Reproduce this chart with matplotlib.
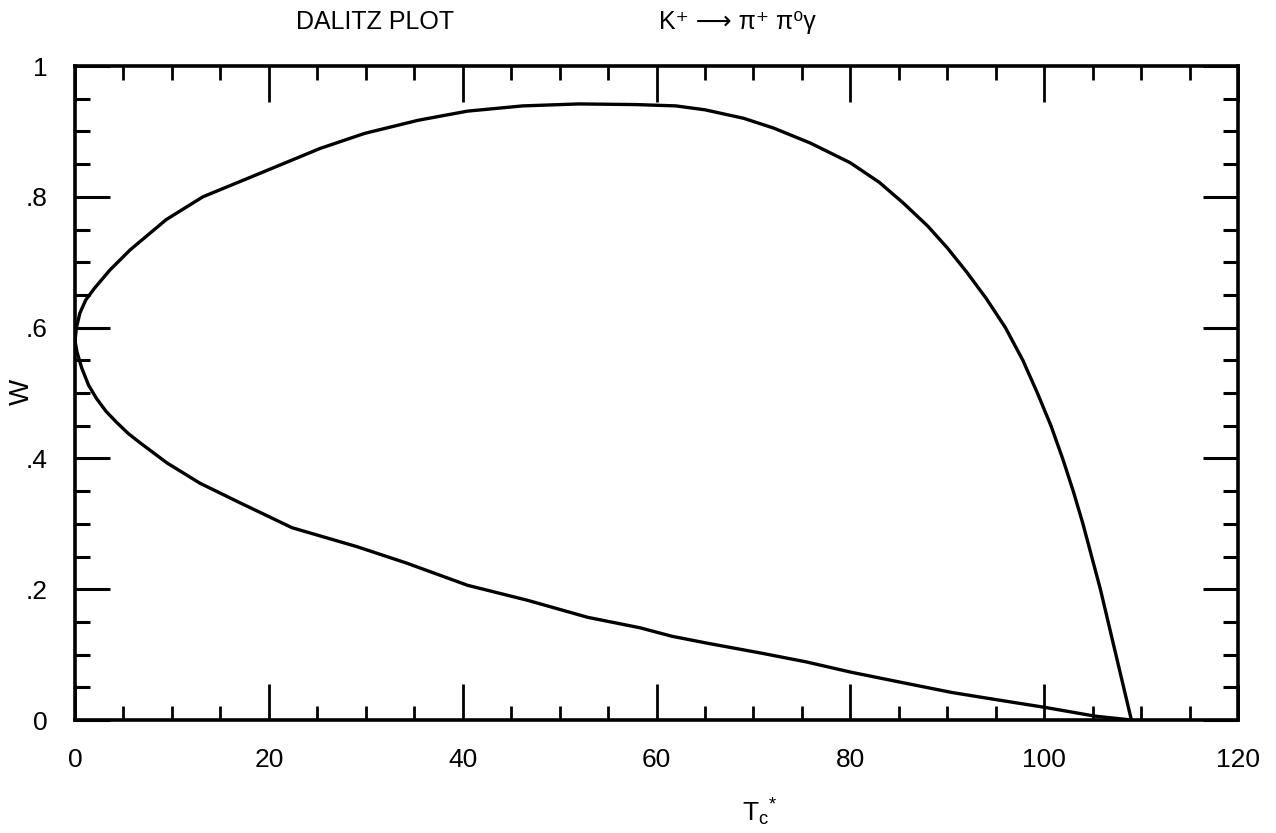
import matplotlib
matplotlib.use("Agg")
import matplotlib.pyplot as plt
from matplotlib.ticker import MultipleLocator

plt.rcParams['font.family'] = ['Liberation Sans', 'DejaVu Sans']
plt.rcParams['mathtext.fontset'] = 'custom'
plt.rcParams['mathtext.rm'] = 'Liberation Sans'
plt.rcParams['mathtext.it'] = 'Liberation Sans'
plt.rcParams['mathtext.sf'] = 'Liberation Sans'

# boundary of the Dalitz region
upper_T = [0.0, 0.15, 0.5, 1.1, 2.0, 3.6, 5.7, 9.4, 13.2, 19.1, 25.3, 29.9, 35.4, 40.5,
           46.2, 52.0, 57.9, 62.0, 65.0, 69.0, 72.1, 75.9, 80.0, 83.0, 85.5, 88.0, 90.0,
           92.0, 94.0, 96.0, 97.8, 99.3, 100.7, 101.9, 103.0, 104.0, 104.9, 105.8,
           106.6, 107.4, 108.2, 109.0]
upper_W = [0.58, 0.60, 0.622, 0.642, 0.660, 0.688, 0.719, 0.765, 0.800, 0.836, 0.874,
           0.897, 0.917, 0.931, 0.939, 0.942, 0.941, 0.939, 0.933, 0.920, 0.905, 0.882,
           0.852, 0.822, 0.790, 0.755, 0.722, 0.685, 0.645, 0.600, 0.550, 0.500, 0.450,
           0.400, 0.350, 0.300, 0.250, 0.200, 0.150, 0.100, 0.050, 0.0]

lower_T = [0.0, 0.2, 0.7, 1.4, 2.2, 3.2, 4.3, 5.5, 6.7, 9.5, 12.9, 16.9, 22.4, 29.1,
           34.2, 40.5, 46.7, 52.9, 58.3, 61.6, 65.4, 70.9, 75.4, 80.1, 85.1, 90.5,
           95.1, 100.2, 105.2, 109.0]
lower_W = [0.58, 0.563, 0.538, 0.512, 0.492, 0.472, 0.455, 0.438, 0.424, 0.393, 0.362,
           0.333, 0.294, 0.265, 0.240, 0.206, 0.183, 0.157, 0.141, 0.128, 0.117, 0.102,
           0.089, 0.073, 0.058, 0.042, 0.031, 0.019, 0.006, 0.0]

x_ticks = [0, 20, 40, 60, 80, 100, 120]
y_ticks = [0, 0.2, 0.4, 0.6, 0.8, 1.0]
y_tick_labels = ['0', '.2', '.4', '.6', '.8', '1']

fig = plt.figure(figsize=(12.76, 8.33), dpi=100)
ax = fig.add_axes([75 / 1276, 1 - 720 / 833, (1238 - 75) / 1276, (720 - 66) / 833])

ax.plot(upper_T, upper_W, color='black', lw=2.4, solid_capstyle='round', solid_joinstyle='round')
ax.plot(lower_T, lower_W, color='black', lw=2.4, solid_capstyle='round', solid_joinstyle='round')

ax.set_xlim(0, 120)
ax.set_ylim(0, 1)
ax.set_xticks(x_ticks)
ax.set_xticklabels([str(t) for t in x_ticks])
ax.set_yticks(y_ticks)
ax.set_yticklabels(y_tick_labels)
ax.xaxis.set_minor_locator(MultipleLocator(5))
ax.yaxis.set_minor_locator(MultipleLocator(0.05))

ax.tick_params(which='both', direction='in', top=True, right=True, color='black')
ax.tick_params(axis='x', which='major', length=26, width=2.0, labelsize=19, pad=20)
ax.tick_params(axis='x', which='minor', length=10, width=2.0)
ax.tick_params(axis='y', which='major', length=25, width=2.2, labelsize=19, pad=20)
ax.tick_params(axis='y', which='minor', length=11, width=2.2)

for s in ax.spines.values():
    s.set_linewidth(2.6)

fig.text(22 / 1276, 1 - 392 / 833, 'W', rotation=90, fontsize=20, ha='center', va='center')
fig.text(760 / 1276, 1 - 812 / 833, r'T$_{\rm c}$$^{*}$', fontsize=19, ha='center', va='center')

fig.text(375 / 1276, 1 - 22 / 833, 'DALITZ PLOT', fontsize=18, ha='center', va='center')
fig.text(737 / 1276, 1 - 22 / 833, 'K\u207a \u27f6 \u03c0\u207a \u03c0\u2070\u03b3', fontsize=18,
         ha='center', va='center')

fig.savefig('out.png', dpi=100)
